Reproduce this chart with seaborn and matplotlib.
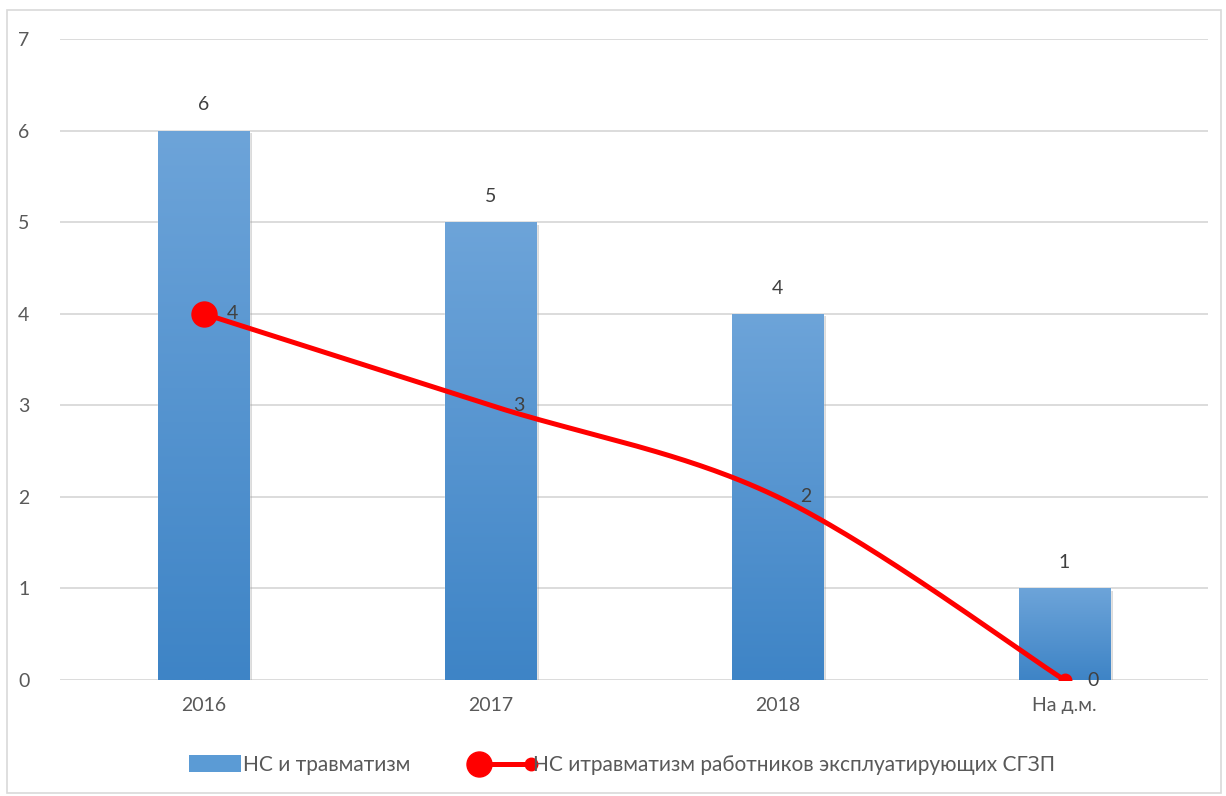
import numpy as np
import pandas as pd
import matplotlib
matplotlib.use("Agg")
import matplotlib.pyplot as plt
import seaborn as sns
from matplotlib.lines import Line2D
from matplotlib.patches import Patch, Rectangle
from matplotlib.legend_handler import HandlerBase
from matplotlib.colors import LinearSegmentedColormap
from matplotlib import patheffects as pe

# data
categories = ["2016", "2017", "2018", "На д.м."]
bar_values = [6, 5, 4, 1]
line_values = [4, 3, 2, 0]
bar_name = "НС и травматизм"
line_name = "НС итравматизм работников эксплуатирующих СГЗП"

sns.set_theme(style="white")
plt.rcParams['font.family'] = ['Lato', 'Open Sans', 'DejaVu Sans']

TEXT = "#595959"
LABEL = "#404040"
FS = 14

fig = plt.figure(figsize=(12.26, 7.96), dpi=100)
ax = fig.add_axes([60 / 1226, 1 - 680 / 796, 1148 / 1226, 641 / 796])

df = pd.DataFrame({"cat": categories, "val": bar_values})
sns.barplot(data=df, x="cat", y="val", width=0.32, color="#5B9BD5",
            ax=ax, zorder=2, saturation=1)

# gradient fill on bars (lighter at top)
cmap = LinearSegmentedColormap.from_list("g", ["#3E84C6", "#6DA4D9"])
grad = np.linspace(0, 1, 256).reshape(-1, 1)
for p in ax.patches:
    x0, w, h = p.get_x(), p.get_width(), p.get_height()
    p.set_path_effects([pe.SimplePatchShadow(offset=(2, -2), shadow_rgbFace="#999999", alpha=0.35),
                        pe.Normal()])
    im = ax.imshow(grad, extent=[x0, x0 + w, 0, h], origin="lower", aspect="auto",
                   cmap=cmap, zorder=2.5)
    im.set_clip_path(p)
    ax.text(x0 + w / 2, h + 0.28, str(int(h)), ha="center", va="center",
            fontsize=FS, color=LABEL)

# smoothed line (Excel-style bezier through the points)
xs = np.arange(len(line_values), dtype=float)
ys = np.array(line_values, dtype=float)
P = np.column_stack([xs, ys])
curve = []
t = np.linspace(0, 1, 60)
for i in range(len(P) - 1):
    p0 = P[i]
    p3 = P[i + 1]
    pm = P[i - 1] if i > 0 else P[i]
    pn = P[i + 2] if i + 2 < len(P) else P[i + 1]
    c1 = p0 + (p3 - pm) / 6
    c2 = p3 - (pn - p0) / 6
    seg = ((1 - t) ** 3)[:, None] * p0 + (3 * (1 - t) ** 2 * t)[:, None] * c1 \
        + (3 * (1 - t) * t ** 2)[:, None] * c2 + (t ** 3)[:, None] * p3
    curve.append(seg)
curve = np.vstack(curve)
ax.plot(curve[:, 0], curve[:, 1], color="red", lw=3.6, zorder=4, solid_capstyle="round")
ax.plot(xs[0], ys[0], "o", color="red", ms=18, zorder=5)
ax.plot(xs[-1], ys[-1], "o", color="red", ms=9, zorder=5)
for x, y in zip(xs, ys):
    ax.text(x + 0.1, y, str(int(y)), ha="center", va="center", fontsize=FS, color=LABEL, zorder=6)

ax.set_ylim(0, 7)
ax.set_xlim(-0.5, 3.5)
ax.set_yticks(range(0, 8))
ax.yaxis.grid(True, color="#D9D9D9", lw=1.3, zorder=0)
ax.set_axisbelow(True)
for s in ax.spines.values():
    s.set_visible(False)
ax.set_xlabel("")
ax.set_ylabel("")
ax.tick_params(axis="both", length=0, labelsize=FS, labelcolor=TEXT)
ax.tick_params(axis="y", pad=22)
ax.tick_params(axis="x", pad=12)


class SplitMarkerHandler(HandlerBase):
    def create_artists(self, legend, orig, xd, yd, w, h, fontsize, trans):
        y = h / 2 - yd
        line = Line2D([-xd, w - xd], [y, y], color="red", lw=3.6)
        big = Line2D([-xd], [y], marker="o", ms=18, color="red", ls="")
        small = Line2D([w - xd], [y], marker="o", ms=9, color="red", ls="")
        for a in (line, big, small):
            a.set_transform(trans)
        return [line, big, small]


bar_handle = Patch(facecolor="#5B9BD5", edgecolor="none")
line_handle = Line2D([], [], color="red")
fig.legend([bar_handle, line_handle], [bar_name, line_name],
           handler_map={Line2D: SplitMarkerHandler()},
           loc="center", bbox_to_anchor=(622 / 1226, 1 - 765 / 796), ncol=2,
           frameon=False, fontsize=FS + 1, labelcolor=TEXT, handlelength=2.5,
           handleheight=0.9, handletextpad=0.1, columnspacing=3.3)

fig.add_artist(Rectangle((7 / 1226, 1 - 793 / 796), 1214 / 1226, 783 / 796,
                         transform=fig.transFigure, fill=False, edgecolor="#D9D9D9", lw=1.2))

fig.savefig("out.png", dpi=100)
